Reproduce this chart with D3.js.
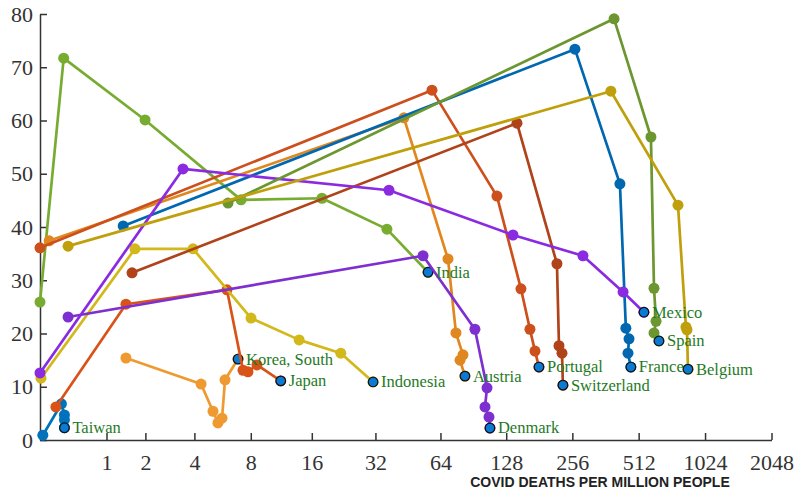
<!DOCTYPE html>
<html>
<head>
<meta charset="utf-8">
<script src="https://cdn.jsdelivr.net/npm/d3@7"></script>
<style>
  body { margin: 0; background: #fff; }
  .axis path, .axis line { stroke: #333; stroke-width: 1.5; }
</style>
</head>
<body>
<div id="chart"></div>
<script>
// [deaths per million, y value] per country
const taiwan = [[0.03, 0.9], [0.25, 6.8], [0.29, 4.7], [0.29, 3.8], [0.29, 2.3]];
const korea = [[1.45, 15.4], [4.36, 10.5], [5.07, 5.4], [5.39, 3.2], [5.67, 4.1], [5.88, 11.3], [6.88, 15.2]];
const japan = [[0.18, 6.2], [1.45, 25.5], [6.02, 28.2], [7.3, 13.1], [7.74, 12.8], [8.6, 14.1], [11.3, 11.1]];
const indonesia = [[0.01, 11.6], [1.69, 35.9], [3.93, 35.9], [8.02, 22.9], [13.9, 18.8], [22.0, 16.3], [31.2, 10.9]];
const india = [[0, 25.9], [0.28, 71.7], [1.99, 60.1], [7.13, 45.1], [17.9, 45.4], [36.2, 39.6], [56.1, 31.5]];
const austria = [[0.1, 37.4], [43.4, 60.5], [69.3, 34.0], [75.4, 20.1], [81.2, 16.0], [78.7, 15.0], [82.9, 12.0]];
const denmark = [[0.34, 23.1], [53.2, 34.6], [92.1, 20.8], [104.6, 9.8], [102.4, 6.2], [106.8, 4.3], [107.9, 2.25]];
const portugal = [[0, 36.1], [58.5, 65.7], [116.1, 45.8], [149.4, 28.4], [164.2, 20.8], [173.1, 16.7], [180.5, 13.7]];
const switzerland = [[1.61, 31.4], [143.3, 59.5], [217.9, 33.1], [222.6, 17.7], [229.7, 16.3], [232, 10.3]];
const france = [[1.38, 40.2], [263, 73.4], [421, 48.1], [448, 21.0], [463, 19.0], [458, 16.3], [472, 13.7]];
const mexico = [[0, 12.6], [3.44, 50.9], [37.0, 46.9], [137.4, 38.5], [286, 34.6], [435, 27.8], [541, 24.0]];
const spain = [[6.1, 44.5], [396, 79.1], [582, 56.9], [601, 28.5], [614, 22.3], [601, 20.1], [633, 18.6]];
const belgium = [[0.34, 36.4], [383, 65.5], [772, 44.1], [839, 21.2], [848, 20.7], [857, 13.3]];

const countries = ["Taiwan", "Korea, South", "Japan", "Indonesia", "India", "Austria", "Denmark",
  "Portugal", "Switzerland", "France", "Mexico", "Spain", "Belgium"];
const countryPoints = [taiwan, korea, japan, indonesia, india, austria, denmark,
  portugal, switzerland, france, mexico, spain, belgium];
const lineColors = ["#0072bd", "#ee9a30", "#d95319", "#d2b81a", "#77ac30", "#e0871f", "#7e2fd0",
  "#cc4f1c", "#b0431a", "#0068b0", "#8a2be2", "#6c9630", "#bfa00c"];

const xTicks = [1, 2, 4, 8, 16, 32, 64, 128, 256, 512, 1024, 2048];
const yTicks = [0, 10, 20, 30, 40, 50, 60, 70, 80];

const width = 796;
const height = 492;
const serif = '"Liberation Serif", "Times New Roman", Times, serif';

const svg = d3.select("#chart").append("svg")
  .attr("width", width)
  .attr("height", height);

// log2(d + 1) spacing, which is what symlog with constant 1 gives
const x = d3.scaleSymlog().constant(1).domain([0, 2048]).range([40, 771.5]);
const y = d3.scaleLinear().domain([0, 80]).range([440, 14]);

const xAxisG = svg.append("g")
  .attr("class", "axis")
  .attr("transform", "translate(0,440)")
  .call(d3.axisBottom(x).tickValues(xTicks).tickFormat(d3.format("d"))
    .tickSizeInner(-7).tickSizeOuter(0).tickPadding(14));

const yAxisG = svg.append("g")
  .attr("class", "axis")
  .attr("transform", "translate(40,0)")
  .call(d3.axisLeft(y).tickValues(yTicks)
    .tickSizeInner(-7).tickSizeOuter(0).tickPadding(7));

[xAxisG, yAxisG].forEach(g => {
  g.attr("font-family", null).attr("font-size", null);
  g.selectAll("text")
    .style("font-family", serif)
    .style("font-size", "22px")
    .style("fill", "#333");
});

svg.append("text")
  .attr("x", 600)
  .attr("y", 487)
  .attr("text-anchor", "middle")
  .style("font-family", '"Liberation Sans", Arial, sans-serif')
  .style("font-size", "14px")
  .style("font-weight", "bold")
  .style("fill", "#222")
  .text("COVID DEATHS PER MILLION PEOPLE");

const line = d3.line()
  .x(d => x(d[0]))
  .y(d => y(d[1]));

countries.forEach((name, i) => {
  const pts = countryPoints[i];
  const color = lineColors[i];
  const g = svg.append("g");

  g.append("path")
    .datum(pts)
    .attr("d", line)
    .attr("fill", "none")
    .attr("stroke", color)
    .attr("stroke-width", 2.7)
    .attr("stroke-linejoin", "round");

  g.selectAll("circle.pt")
    .data(pts)
    .enter().append("circle")
    .attr("class", "pt")
    .attr("cx", d => x(d[0]))
    .attr("cy", d => y(d[1]))
    .attr("r", 5.5)
    .attr("fill", color);

  // last point: blue marker with a dark edge
  const last = pts[pts.length - 1];
  g.append("circle")
    .attr("cx", x(last[0]))
    .attr("cy", y(last[1]))
    .attr("r", 4.8)
    .attr("fill", "#0a7ad2")
    .attr("stroke", "#111")
    .attr("stroke-width", 1.2);
});

// names go on top of everything
countries.forEach((name, i) => {
  const pts = countryPoints[i];
  const last = pts[pts.length - 1];
  svg.append("text")
    .attr("x", x(last[0]) + 8)
    .attr("y", y(last[1]))
    .attr("dy", "0.33em")
    .style("font-family", serif)
    .style("font-size", "16.5px")
    .style("fill", "#1f7a1f")
    .text(name);
});
</script>
</body>
</html>
